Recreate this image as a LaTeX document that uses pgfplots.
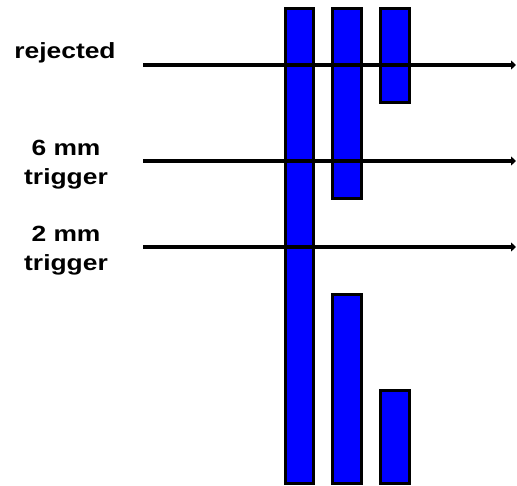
\documentclass[border=0pt]{standalone}
\usepackage{pgfplots}
\pgfplotsset{compat=1.18}
\usetikzlibrary{arrows.meta}
\usepackage{fontspec}
\setmainfont{Liberation Sans}[FakeStretch=1.2]

\begin{document}
\begin{tikzpicture}
\begin{axis}[
    at={(0,0)}, anchor=south west,
    width=517pt, height=486pt,
    scale only axis,
    xmin=0, xmax=517,
    ymin=0, ymax=486,
    y dir=reverse,
    hide axis,
    clip=false,
]
% bars (pixel coordinates, y measured from the top)
\addplot[fill={rgb,255:red,0;green,0;blue,255}, draw=black, line width=3pt]
    coordinates {(285.5,8.5) (313.5,8.5) (313.5,483.5) (285.5,483.5)} -- cycle;
\addplot[fill={rgb,255:red,0;green,0;blue,255}, draw=black, line width=3pt]
    coordinates {(332.5,8.5) (361.5,8.5) (361.5,198.5) (332.5,198.5)} -- cycle;
\addplot[fill={rgb,255:red,0;green,0;blue,255}, draw=black, line width=3pt]
    coordinates {(332.5,294.5) (361.5,294.5) (361.5,483.5) (332.5,483.5)} -- cycle;
\addplot[fill={rgb,255:red,0;green,0;blue,255}, draw=black, line width=3pt]
    coordinates {(380.5,8.5) (409.5,8.5) (409.5,102.5) (380.5,102.5)} -- cycle;
\addplot[fill={rgb,255:red,0;green,0;blue,255}, draw=black, line width=3pt]
    coordinates {(380.5,390.5) (409.5,390.5) (409.5,483.5) (380.5,483.5)} -- cycle;
% thresholds
\addplot[black, line width=3.5pt, -{Triangle[length=5pt,width=9pt]}]
    coordinates {(143,65) (516,65)};
\addplot[black, line width=3.5pt, -{Triangle[length=5pt,width=9pt]}]
    coordinates {(143,161) (516,161)};
\addplot[black, line width=3.5pt, -{Triangle[length=5pt,width=9pt]}]
    coordinates {(143,247) (516,247)};
\node[font=\fontsize{22}{29}\selectfont\bfseries] at (axis cs:65,53) {rejected};
\node[font=\fontsize{22}{29}\selectfont\bfseries, align=center] at (axis cs:66,165) {6 mm\\trigger};
\node[font=\fontsize{22}{29}\selectfont\bfseries, align=center] at (axis cs:66,251) {2 mm\\trigger};
\end{axis}
\pgfresetboundingbox
\path (0,0) rectangle (517pt,486pt);
\end{tikzpicture}
\end{document}
